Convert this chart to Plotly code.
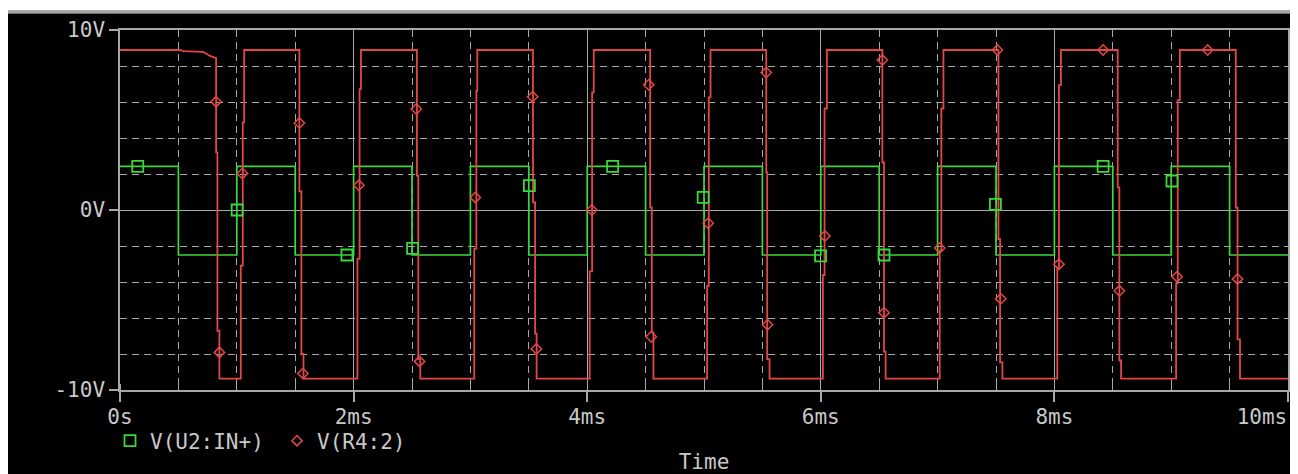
import plotly.graph_objects as go

# ---------------- data ----------------
# Green: V(U2:IN+) square wave, starts high
green_high = 2.42
green_low = -2.5
green_edges = [0.5, 1.0, 1.5, 2.0, 2.5, 3.0, 3.5, 4.0, 4.5, 5.0,
               5.5, 6.0, 6.5, 7.0, 7.5, 8.0, 8.5, 9.0, 9.5]
green_marker_t = [0.152, 1.003, 1.943, 2.505, 3.505, 4.218, 4.993, 5.998,
                  6.541, 7.495, 8.417, 9.007]
green_marker_v = [2.42, 0.0, -2.5, -2.13, 1.35, 2.42, 0.7, -2.55,
                  -2.5, 0.31, 2.42, 1.61]

# Red: V(R4:2) comparator output
red_top = 8.89
red_bottom = -9.37
red_start_t = [0.0, 0.508, 0.542, 0.709, 0.743, 0.771, 0.823]
red_start_v = [8.89, 8.89, 8.83, 8.79, 8.67, 8.56, 8.44]
# each transition: three near-vertical pieces at ta, tb, tc with
# intermediate levels v1 (after ta) and v2 (after tb)
red_edge_ta = [0.823, 1.034, 1.536, 2.033, 2.542, 3.033, 3.536, 4.021, 4.539, 5.027,
               5.533, 6.018, 6.527, 7.018, 7.521, 8.025, 8.542, 9.042, 9.553]
red_edge_tb = [0.834, 1.051, 1.553, 2.051, 2.554, 3.051, 3.554, 4.042, 4.553, 5.041,
               5.541, 6.032, 6.541, 7.032, 7.535, 8.039, 8.556, 9.056, 9.568]
red_edge_tc = [0.851, 1.063, 1.571, 2.063, 2.571, 3.059, 3.567, 4.056, 4.567, 5.056,
               5.561, 6.052, 6.555, 7.050, 7.555, 8.056, 8.571, 9.074, 9.589]
red_edge_v1 = [3.20, -3.09, 1.03, -2.72, 1.91, -2.15, 0.42, -3.41, 0.14, -4.21,
               2.09, -3.61, 2.64, -2.26, -1.61, -3.23, 1.26, -4.08, 0.13]
red_edge_v2 = [-6.71, 4.87, -8.00, 6.72, -8.28, 6.63, -6.87, 6.53, -6.80, 6.26,
               -8.28, 5.64, -7.87, 5.64, -8.47, 6.94, -8.36, 6.10, -7.19]
red_end_t = 10.0
red_marker_t = [0.823, 0.851, 1.048, 1.536, 1.566, 2.045, 2.537, 2.565, 3.042, 3.533,
                3.565, 4.039, 4.527, 4.548, 5.036, 5.533, 5.544, 6.035, 6.527, 6.541,
                7.018, 7.512, 7.541, 8.039, 8.417, 8.556, 9.050, 9.312, 9.568]
red_marker_v = [6.02, -7.91, 2.03, 4.83, -9.08, 1.37, 5.61, -8.41, 0.70, 6.29,
                -7.72, 0.0, 6.96, -7.04, -0.74, 7.64, -6.37, -1.44, 8.33, -5.71,
                -2.11, 8.89, -4.93, -3.01, 8.89, -4.49, -3.71, 8.89, -3.83]

x_tickvals = [0, 2, 4, 6, 8, 10]
x_ticktext = ["0s", "2ms", "4ms", "6ms", "8ms", ""]
y_tickvals = [-10, 0, 10]
y_ticktext = ["-10V", "0V", "10V"]

# ---------------- build paths ----------------
gx, gy = [0.0], [green_high]
level = green_high
for t in green_edges:
    nxt = green_low if level == green_high else green_high
    gx += [t, t]
    gy += [level, nxt]
    level = nxt
gx.append(10.0)
gy.append(level)

rx, ry = list(red_start_t), list(red_start_v)
level = red_start_v[-1]
for ta, tb, tc, v1, v2 in zip(red_edge_ta, red_edge_tb, red_edge_tc, red_edge_v1, red_edge_v2):
    end = red_bottom if v2 < v1 else red_top
    rx += [ta, ta, tb, tb, tc, tc]
    ry += [level, v1, v1, v2, v2, end]
    level = end
rx.append(red_end_t)
ry.append(level)

GREEN = "#3ad83a"
RED = "#e44646"
GRID = "#a8a8a8"
TXT = "#c8c8c8"
FONT = "DejaVu Sans Mono"
FS = 21

fig = go.Figure()
fig.add_trace(go.Scatter(x=gx, y=gy, mode="lines", line=dict(color=GREEN, width=1.7),
                         showlegend=False, hoverinfo="skip"))
fig.add_trace(go.Scatter(x=rx, y=ry, mode="lines", line=dict(color=RED, width=1.8),
                         showlegend=False, hoverinfo="skip"))
fig.add_trace(go.Scatter(x=green_marker_t, y=green_marker_v, mode="markers", name="V(U2:IN+)",
                         marker=dict(symbol="square-open", size=11, color=GREEN,
                                     line=dict(width=1.8, color=GREEN))))
fig.add_trace(go.Scatter(x=red_marker_t, y=red_marker_v, mode="markers", name="V(R4:2)",
                         xaxis="x2",
                         marker=dict(symbol="diamond-open", size=8, color=RED,
                                     line=dict(width=1.5, color=RED))))

# page has an 8px body margin, so the figure starts at (8, 8)
OFF = 8
W, H = 1298 - OFF, 474 - OFF
L, R, T, B = 112, 10, 22, 84
PW, PH = W - L - R, H - T - B


def px(xr):  # reference-picture x pixel -> paper
    return (xr - OFF - L) / PW


def py(yr):  # reference-picture y pixel -> paper
    return (H - B - (yr - OFF)) / PH


shapes = [
    dict(type="rect", xref="paper", yref="paper", x0=px(0), x1=px(1300), y0=py(10), y1=py(0),
         fillcolor="white", line=dict(width=0), layer="above"),
    dict(type="rect", xref="paper", yref="paper", x0=px(0), x1=px(1300), y0=py(14), y1=py(10),
         fillcolor="#a6a6a6", line=dict(width=0), layer="above"),
    dict(type="line", xref="paper", yref="paper", x0=px(0), x1=px(1300), y0=py(13.5), y1=py(13.5),
         line=dict(color="#6a6a6a", width=1), layer="above"),
]

fig.update_layout(
    width=W, height=H,
    margin=dict(l=L, r=R, t=T, b=B, pad=0, autoexpand=False),
    paper_bgcolor="black", plot_bgcolor="black",
    font=dict(family=FONT, size=FS, color=TXT),
    shapes=shapes,
    showlegend=True,
    legend=dict(orientation="h", x=px(110), xanchor="left", y=py(441), yanchor="middle",
                bgcolor="rgba(0,0,0,0)", font=dict(family=FONT, size=FS, color=TXT),
                entrywidth=122, entrywidthmode="pixels", itemclick=False),
    xaxis=dict(range=[0, 10], tickvals=x_tickvals, ticktext=x_ticktext,
               ticks="outside", ticklen=10, tickwidth=1.5, tickcolor=GRID,
               showline=True, linecolor=GRID, linewidth=1.5, mirror=True,
               showgrid=True, gridcolor=GRID, gridwidth=1.2, zeroline=False,
               tickfont=dict(family=FONT, size=FS, color=TXT), ticklabelstandoff=-3,
               automargin=False,
               minor=dict(dtick=0.5, tick0=0, showgrid=True, gridcolor=GRID, gridwidth=1.2,
                          griddash="7px,5px", ticks="inside", ticklen=6, tickcolor=GRID,
                          tickwidth=1.2),
               title=dict(text="Time", standoff=35, font=dict(family=FONT, size=FS, color=TXT)),
               fixedrange=True),
    xaxis2=dict(range=[0, 10], overlaying="x", anchor="y", side="bottom",
                tickvals=[10], ticktext=["10ms"], ticks="outside", ticklen=10, tickwidth=1.5,
                tickcolor=GRID, showgrid=False, showline=False, automargin=False,
                zeroline=False, ticklabelposition="outside left", ticklabelstandoff=8,
                tickfont=dict(family=FONT, size=FS, color=TXT), fixedrange=True),
    yaxis=dict(range=[-10, 10], tickvals=y_tickvals, ticktext=y_ticktext,
               ticks="outside", ticklen=9, tickwidth=1.5, tickcolor=GRID,
               showline=True, linecolor=GRID, linewidth=1.5, mirror=True,
               showgrid=True, gridcolor=GRID, gridwidth=1.2, zeroline=False,
               tickfont=dict(family=FONT, size=FS, color=TXT), automargin=False,
               minor=dict(dtick=2, tick0=0, showgrid=True, gridcolor=GRID, gridwidth=1.2,
                          griddash="7px,5px", ticks=""),
               fixedrange=True),
)

fig.write_html("out.html")
